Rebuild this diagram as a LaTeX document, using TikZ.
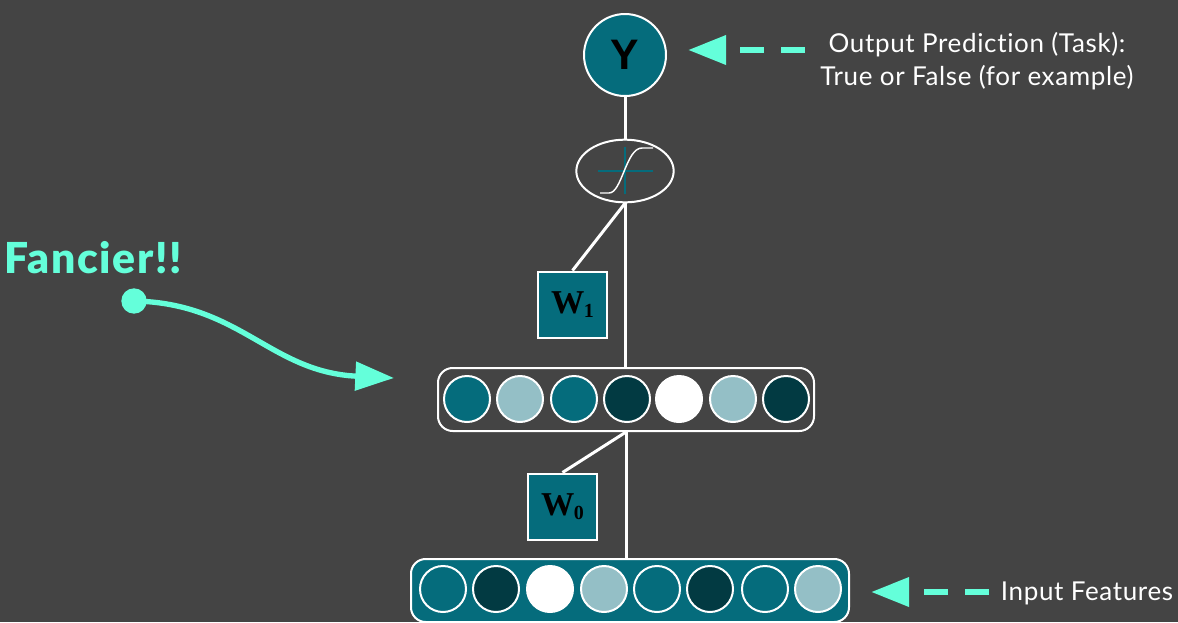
\documentclass[tikz,border=0pt]{standalone}
\usepackage{fontspec}
\setmainfont{Lato}[RawFeature=-liga]
\newfontfamily\notefont{Lato}[LetterSpace=2.5,RawFeature=-liga]
\newfontfamily\fancyfont{Lato}[LetterSpace=4,BoldFont=Lato Black]
\newfontfamily\yfont{Liberation Sans}
\newfontfamily\wfont{Liberation Serif}
\usetikzlibrary{arrows.meta,calc,shapes.geometric}
\definecolor{bgGray}{HTML}{444444}
\definecolor{tealMid}{HTML}{056C7C}
\definecolor{tealDark}{HTML}{023A42}
\definecolor{tealLight}{HTML}{94BFC6}
\definecolor{mint}{HTML}{64FFDA}
\newcommand{\wlabel}[1]{W\kern-0.5pt\raisebox{-3pt}{\fontsize{15}{15}\selectfont #1}}
\tikzset{
    unit/.style={draw=white, circle, line width=1.5pt, minimum size=34.5pt, inner sep=0pt},
    wbox/.style={draw=white, rectangle, fill=tealMid, line width=1.5pt, minimum width=52pt, minimum height=49.5pt, inner sep=0pt,
        font=\wfont\fontsize{25}{25}\selectfont\bfseries, text=black},
    rowbox/.style={draw=white, rectangle, rounded corners=11pt, line width=1.5pt, minimum height=47.25pt},
    link/.style={draw=white, line width=2.25pt},
    note/.style={text=white, font=\notefont\fontsize{19.5}{24.75}\selectfont, align=center, inner sep=0pt},
    hintarrow/.style={draw=mint, line width=5pt, dash pattern=on 18pt off 12.75pt,
        -{Triangle[length=28.5pt,width=21pt,fill=mint]}}
}
\begin{document}
\begin{tikzpicture}[x=0.75pt,y=-0.75pt]
    \useasboundingbox[fill=bgGray] (0,0) rectangle (1178,622);

    % output side
    \node[draw=white, circle, fill=tealMid, line width=1.5pt, minimum size=61.5pt, inner sep=0pt,
        font=\yfont\fontsize{32}{32}\selectfont\bfseries, text=black] (yout) at (625,55) {Y};
    \node[draw=white, ellipse, line width=1.5pt, minimum width=73pt, minimum height=47pt, inner sep=0pt] (sigm) at (625,171) {};
    \draw[tealMid, line width=1pt] (598,171) -- (653,171) (625,147) -- (625,194);
    \draw[white, line width=1.1pt] (600,193) -- (609,193) .. controls (622,193) and (626,148) .. (642,148) -- (653,148);

    % layers
    \node[rowbox] (hidden) at (626,399.5) [minimum width=282pt] {};
    \node[rowbox, fill=tealMid] (inrow) at (630,590.5) [minimum width=328.5pt] {};
    \node[wbox] (wone) at (572.5,304.5) {\wlabel{1}};
    \node[wbox] (wzero) at (562.5,506.5) {\wlabel{0}};

    \foreach \x/\c [count=\i] in {467/tealMid,520/tealLight,574/tealMid,627/tealDark,679/white,733/tealLight,786/tealDark}
        \node[unit, fill=\c] (h\i) at (\x,399) {};
    \foreach \x/\c [count=\i] in {443/tealMid,496/tealDark,550/white,604/tealLight,657/tealMid,710/tealDark,765/tealMid,818/tealLight}
        \node[unit, fill=\c] (in\i) at (\x,589) {};

    % connectors
    \draw[link] (yout) -- (sigm);
    \draw[link] (sigm.south) -- (sigm.south |- hidden.north);
    \draw[link] (sigm.south) -- (wone.north);
    \draw[link] (hidden.south) -- (wzero.north);
    \draw[link] (hidden.south) -- (hidden.south |- inrow.north);

    % notes
    \node[note] (outnote) at (977,61) {Output Prediction (Task):\\True or False (for example)};
    \node[note] (innote) at (1087,593) {Input Features};
    \coordinate (outtail) at (805,50);
    \coordinate (outtip) at (688,50);
    \coordinate (intail) at (989,592);
    \coordinate (intip) at (871,592);
    \draw[hintarrow] (outtail) -- (outtip);
    \draw[hintarrow] (intail) -- (intip);

    \node[text=mint, inner sep=0pt, font=\fancyfont\fontsize{32}{32}\selectfont\bfseries] (fancy) at (93,258) {Fancier!!};
    \node[circle, fill=mint, minimum size=19pt, inner sep=0pt] (dot) at (134,301) {};
    \coordinate (fancytip) at (394,378);
    \draw[draw=mint, line width=4pt, -{Triangle[length=29pt,width=21pt,fill=mint]}]
        (dot.center) .. controls (240,303) and (270,372) .. (fancytip);
\end{tikzpicture}
\end{document}
